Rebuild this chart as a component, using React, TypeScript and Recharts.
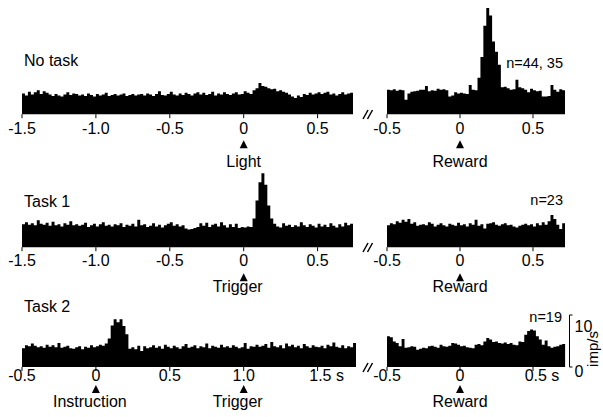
import React from 'react';
import { AreaChart, Area, XAxis, YAxis } from 'recharts';

const FONT = "'Liberation Sans', Arial, Helvetica, sans-serif";
const BIN = 0.02; // s
const PX_PER_RATE = 5.2; // px per imp/s

// firing rates (imp/s), 20 ms bins
const noTaskLightStart = -1.5;
const noTaskLight = [
  4.0, 3.6, 4.3, 3.8, 4.2, 4.6, 3.9, 4.4, 4.1, 3.8,
  3.5, 3.9, 3.6, 3.4, 3.8, 4.2, 3.7, 4.0, 3.9, 3.6,
  3.8, 3.5, 4.0, 3.7, 3.4, 3.9, 3.6, 3.8, 4.1, 3.5,
  3.7, 3.9, 3.6, 3.8, 4.0, 3.5, 3.7, 3.9, 3.6, 3.8,
  3.9, 3.6, 4.0, 3.8, 3.5, 3.9, 4.4, 3.7, 3.6, 3.9,
  4.3, 3.8, 3.6, 4.0, 3.7, 4.1, 3.9, 3.6, 4.0, 4.2,
  3.8, 4.1, 3.7, 3.9, 4.3, 3.6, 4.0, 3.8, 4.2, 3.9,
  3.7, 4.0, 4.2, 3.8, 3.9, 4.4, 4.1, 3.9, 4.6, 5.0,
  6.0, 5.4, 5.3, 5.0, 4.8, 4.9, 4.4, 4.6, 4.3, 4.1,
  3.8, 3.4, 3.1, 3.6, 3.3, 3.9, 3.7, 4.1, 3.8, 4.0,
  4.2, 3.9, 4.1, 4.3, 3.8, 4.0, 3.6, 3.9, 4.2, 3.8, 4.0, 4.1,
];

const noTaskRewardStart = -0.5;
const noTaskReward = [
  4.7, 4.6, 4.8, 4.5, 4.7, 4.6, 2.8, 4.0, 4.3, 4.4,
  4.5, 4.7, 4.7, 5.4, 4.4, 4.6, 4.5, 4.9, 4.7, 4.8,
  4.6, 3.4, 3.6, 4.2, 4.0, 4.1, 4.0, 3.9, 5.6, 4.7,
  4.6,
  7.0, 11, 17, 20.4, 19, 14, 12, 9.5, 5.2,
  5.3, 5.0, 4.7, 4.8, 6.6, 5.2, 5.0, 4.7, 4.2, 4.9,
  4.6, 4.4, 4.5, 3.4, 3.4, 3.5, 5.6, 4.7, 4.3, 4.8, 4.6,
];

const task1TriggerStart = -1.5;
const task1Trigger = [
  4.4, 4.8, 4.3, 4.6, 4.2, 5.2, 4.5, 4.3, 4.7, 4.1,
  4.9, 4.2, 4.4, 4.0, 4.6, 4.3, 5.0, 4.2, 4.4, 4.1,
  4.3, 4.7, 3.9, 4.2, 4.5, 4.0, 4.4, 4.8, 4.1, 4.3,
  4.0, 4.4, 4.2, 4.6, 3.9, 4.3, 4.1, 4.5, 4.0, 5.3,
  4.2, 4.4, 3.9, 4.1, 4.6, 4.0, 4.3, 3.8, 4.2, 4.5,
  4.8, 4.1, 4.4, 4.0, 4.2, 3.6, 3.4, 3.5, 3.7, 3.9,
  4.6, 4.1, 4.7, 3.9, 4.3, 4.5, 4.0, 4.8, 4.2, 3.8,
  4.4, 3.9, 4.5, 3.7, 3.9, 3.8, 4.0, 3.9, 5.5, 9.0,
  12.5, 14.2, 12.0, 8.0, 5.5, 4.5, 4.0, 3.8, 4.6, 4.1,
  4.3, 3.9, 4.2, 4.0, 4.8, 4.2, 3.9, 4.4, 4.1, 3.8,
  4.5, 4.0, 4.3, 3.9, 4.6, 4.1, 3.8, 4.4, 4.0, 4.7, 4.2, 4.5,
];

const task1RewardStart = -0.5;
const task1Reward = [
  4.2, 4.6, 4.4, 5.0, 4.7, 5.3, 4.9, 5.4, 4.5, 4.8,
  4.1, 4.3, 4.4, 4.2, 4.8, 4.5, 4.0, 4.3, 4.6, 4.2,
  4.0, 4.5, 4.3, 4.1, 4.7, 4.2, 4.4, 4.0, 4.6, 4.3,
  5.3, 4.1, 4.4, 3.6, 4.5, 4.6, 4.8, 4.3, 4.1, 4.4,
  4.6, 4.2, 4.3, 4.0, 3.8, 4.1, 4.3, 4.5, 4.2, 4.4,
  4.0, 4.6, 4.2, 4.8, 4.3, 5.0, 6.2, 5.4, 4.3, 3.5, 4.6,
];

const task2InstrStart = -0.5;
const task2Instr = [
  3.6, 4.2, 4.0, 4.5, 4.1, 3.8, 4.0, 3.7, 4.3, 3.9,
  4.2, 3.8, 4.6, 3.7, 3.9, 4.1, 3.6, 3.5, 3.8, 4.0,
  3.4, 3.9, 3.7, 4.2, 3.8, 4.0, 4.3, 4.1, 4.5, 5.5,
  8.0, 9.2, 8.6, 9.2, 7.9, 6.3, 3.5, 3.8, 3.4, 4.1,
  3.1, 4.0, 3.6, 3.8, 4.2, 3.7, 4.0, 3.5, 4.3, 3.9,
  3.6, 4.1, 3.8, 3.5, 4.0, 4.4, 3.7, 3.9, 4.2, 3.6,
  4.0, 3.8, 4.5, 3.6, 4.1, 3.9, 3.7, 4.3, 3.8, 4.0,
  3.7, 4.2, 3.9, 3.6, 3.8, 4.6, 3.5, 4.0, 3.9, 4.3,
  3.9, 4.1, 4.4, 3.7, 4.8, 4.0, 3.8, 4.2, 3.6, 4.5,
  4.0, 4.3, 3.8, 4.1, 3.6, 4.4, 4.0, 3.7, 4.2, 3.9,
  3.8, 4.1, 3.6, 4.3, 4.0, 4.7, 3.9, 3.7, 4.2, 3.6, 4.0, 3.8, 4.6,
];

const task2RewardStart = -0.5;
const task2Reward = [
  5.9, 5.7, 4.9, 4.6, 4.0, 5.4, 3.7, 3.8, 4.0, 3.9,
  3.3, 3.5, 3.7, 3.6, 4.0, 4.1, 3.9, 3.7, 4.3, 4.0,
  3.9, 4.1, 4.6, 4.5, 4.3, 4.0, 4.1, 3.8, 3.7, 3.6,
  4.3, 4.4, 4.2, 4.9, 5.6, 5.3, 4.8, 4.9, 4.6, 4.5,
  4.7, 4.4, 4.6, 4.3, 4.2, 4.9, 4.8, 6.2, 6.9, 7.2,
  7.0, 5.9, 5.3, 4.3, 5.1, 4.0, 3.7, 3.9, 4.0, 4.3, 4.4,
];

const longTicks = [-1.5, -1, -0.5, 0, 0.5];
const task2Ticks = [-0.5, 0, 0.5, 1, 1.5];
const rewardTicks = [-0.5, 0, 0.5];
const scaleTicks = [0, 5, 10];

// histogram bins -> step points at bin edges (last edge closes the final bin)
const toSteps = (start: number, values: number[]) => {
  const pts = values.map((rate, i) => ({ t: +(start + BIN * i).toFixed(3), rate }));
  pts.push({ t: +(start + BIN * values.length).toFixed(3), rate: values[values.length - 1] });
  return pts;
};

const plainFmt = (v: number) => (v === 0 ? '0' : v.toFixed(1));
const secFmt = (last: number) => (v: number) => (v === last ? `${v.toFixed(1)} s` : plainFmt(v));

type Offs = { label: number; triTop: number; triBot: number; event: number };
type Ev = { at: number; name: string; dx?: number };

const TimeTick = (props: any) => {
  const { x, y, payload, fmt, events, offs } = props;
  const label: string = fmt(payload.value);
  const ev = (events as Ev[]).find((e) => e.at === payload.value);
  const txt = { fontFamily: FONT, fontSize: 16, fill: '#000' };
  return (
    <g>
      <text x={x} y={y + offs.label} dx={label.endsWith(' s') ? 9 : 0} textAnchor="middle" {...txt}>
        {label}
      </text>
      {ev && (
        <>
          <polygon
            points={`${x - 4},${y + offs.triBot} ${x + 4},${y + offs.triBot} ${x},${y + offs.triTop}`}
            fill="#000"
          />
          <text x={x + (ev.dx || 0)} y={y + offs.event} textAnchor="middle" {...txt}>
            {ev.name}
          </text>
        </>
      )}
    </g>
  );
};

const ScaleTick = (props: any) => {
  const { x, y, payload } = props;
  return (
    <text x={x} y={y + 4} dy="0.355em" textAnchor="start" fontFamily={FONT} fontSize={16} fill="#000">
      {payload.value}
    </text>
  );
};

type PanelProps = {
  data: { t: number; rate: number }[];
  domain: [number, number];
  x0: number;
  pxPerSec: number;
  baseline: number;
  ymax: number;
  ticks: number[];
  fmt: (v: number) => string;
  events: Ev[];
  offs: Offs;
  scale?: boolean;
};

function Panel({ data, domain, x0, pxPerSec, baseline, ymax, ticks, fmt, events, offs, scale }: PanelProps) {
  const L = 40, R = 14, T = 2, B = 62, YW = 40;
  const plotW = (domain[1] - domain[0]) * pxPerSec;
  const plotH = ymax * PX_PER_RATE;
  return (
    <div style={{ position: 'absolute', left: x0 - L, top: baseline - plotH - T }}>
      <AreaChart
        width={L + plotW + R + (scale ? YW : 0)}
        height={T + plotH + B}
        data={data}
        margin={{ top: T, right: R, left: L, bottom: 0 }}
      >
        <XAxis
          type="number"
          dataKey="t"
          domain={domain}
          ticks={ticks}
          interval={0}
          allowDataOverflow
          axisLine={false}
          stroke="#000"
          tickSize={4}
          tickMargin={0}
          height={B}
          tick={(p: any) => <TimeTick {...p} fmt={fmt} events={events} offs={offs} />}
        />
        <YAxis
          hide={!scale}
          orientation={scale ? 'right' : 'left'}
          domain={[0, ymax]}
          ticks={scaleTicks}
          width={YW}
          stroke="#000"
          tickSize={3}
          tickMargin={2}
          tick={(p: any) => <ScaleTick {...p} />}
        />
        <Area
          type="stepAfter"
          dataKey="rate"
          stroke="none"
          fill="#000"
          fillOpacity={1}
          baseValue={0}
          dot={false}
          activeDot={false}
          isAnimationActive={false}
        />
      </AreaChart>
    </div>
  );
}

const LEFT_X0 = 22;
const LEFT_PX = 147.8;
const RIGHT_X0 = 386.5;
const RIGHT_PX = 146;

const row1: Offs = { label: 16, triTop: 22, triBot: 30, event: 49 };
const row2: Offs = { label: 15, triTop: 22, triBot: 30, event: 41 };
const row3: Offs = { label: 10, triTop: 14, triBot: 22, event: 36 };

const baselines = [114, 247, 367];

const BreakMark = ({ y }: { y: number }) => (
  <g stroke="#000" strokeWidth={1.5}>
    <line x1={363} y1={y + 5} x2={368} y2={y - 4} />
    <line x1={367.5} y1={y + 5} x2={372.5} y2={y - 4} />
  </g>
);

export default function App() {
  const txt = { fontFamily: FONT, fontSize: 16, fill: '#000' };
  const small = { fontFamily: FONT, fontSize: 14.5, fill: '#000' };
  return (
    <div style={{ position: 'absolute', left: 0, top: 0, width: 603, height: 417, background: '#fff', overflow: 'hidden' }}>
      <Panel
        data={toSteps(noTaskLightStart, noTaskLight)}
        domain={[-1.5, 0.74]}
        x0={LEFT_X0}
        pxPerSec={LEFT_PX}
        baseline={baselines[0]}
        ymax={21}
        ticks={longTicks}
        fmt={plainFmt}
        events={[{ at: 0, name: 'Light' }]}
        offs={row1}
      />
      <Panel
        data={toSteps(noTaskRewardStart, noTaskReward)}
        domain={[-0.5, 0.72]}
        x0={RIGHT_X0}
        pxPerSec={RIGHT_PX}
        baseline={baselines[0]}
        ymax={21}
        ticks={rewardTicks}
        fmt={plainFmt}
        events={[{ at: 0, name: 'Reward' }]}
        offs={row1}
      />
      <Panel
        data={toSteps(task1TriggerStart, task1Trigger)}
        domain={[-1.5, 0.74]}
        x0={LEFT_X0}
        pxPerSec={LEFT_PX}
        baseline={baselines[1]}
        ymax={16}
        ticks={longTicks}
        fmt={plainFmt}
        events={[{ at: 0, name: 'Trigger', dx: -6 }]}
        offs={row2}
      />
      <Panel
        data={toSteps(task1RewardStart, task1Reward)}
        domain={[-0.5, 0.72]}
        x0={RIGHT_X0}
        pxPerSec={RIGHT_PX}
        baseline={baselines[1]}
        ymax={16}
        ticks={rewardTicks}
        fmt={plainFmt}
        events={[{ at: 0, name: 'Reward' }]}
        offs={row2}
      />
      <Panel
        data={toSteps(task2InstrStart, task2Instr)}
        domain={[-0.5, 1.76]}
        x0={LEFT_X0}
        pxPerSec={LEFT_PX}
        baseline={baselines[2]}
        ymax={10}
        ticks={task2Ticks}
        fmt={secFmt(1.5)}
        events={[
          { at: 0, name: 'Instruction', dx: -6 },
          { at: 1, name: 'Trigger', dx: -6 },
        ]}
        offs={row3}
      />
      <Panel
        data={toSteps(task2RewardStart, task2Reward)}
        domain={[-0.5, 0.75]}
        x0={RIGHT_X0}
        pxPerSec={RIGHT_PX}
        baseline={baselines[2]}
        ymax={10}
        ticks={rewardTicks}
        fmt={secFmt(0.5)}
        events={[{ at: 0, name: 'Reward' }]}
        offs={row3}
        scale
      />
      <svg width={603} height={417} style={{ position: 'absolute', left: 0, top: 0, pointerEvents: 'none' }}>
        <text x={24} y={66} {...txt}>No task</text>
        <text x={24} y={207} {...txt}>Task 1</text>
        <text x={24} y={312} {...txt}>Task 2</text>
        <text x={563} y={68} textAnchor="end" {...small}>n=44, 35</text>
        <text x={563} y={205} textAnchor="end" {...small}>n=23</text>
        <text x={562} y={322} textAnchor="end" {...small}>n=19</text>
        <text x={598} y={349} transform="rotate(-90 598 349)" textAnchor="middle" {...txt} fontSize={15}>imp/s</text>
        {baselines.map((b) => (
          <BreakMark key={b} y={b} />
        ))}
      </svg>
    </div>
  );
}
